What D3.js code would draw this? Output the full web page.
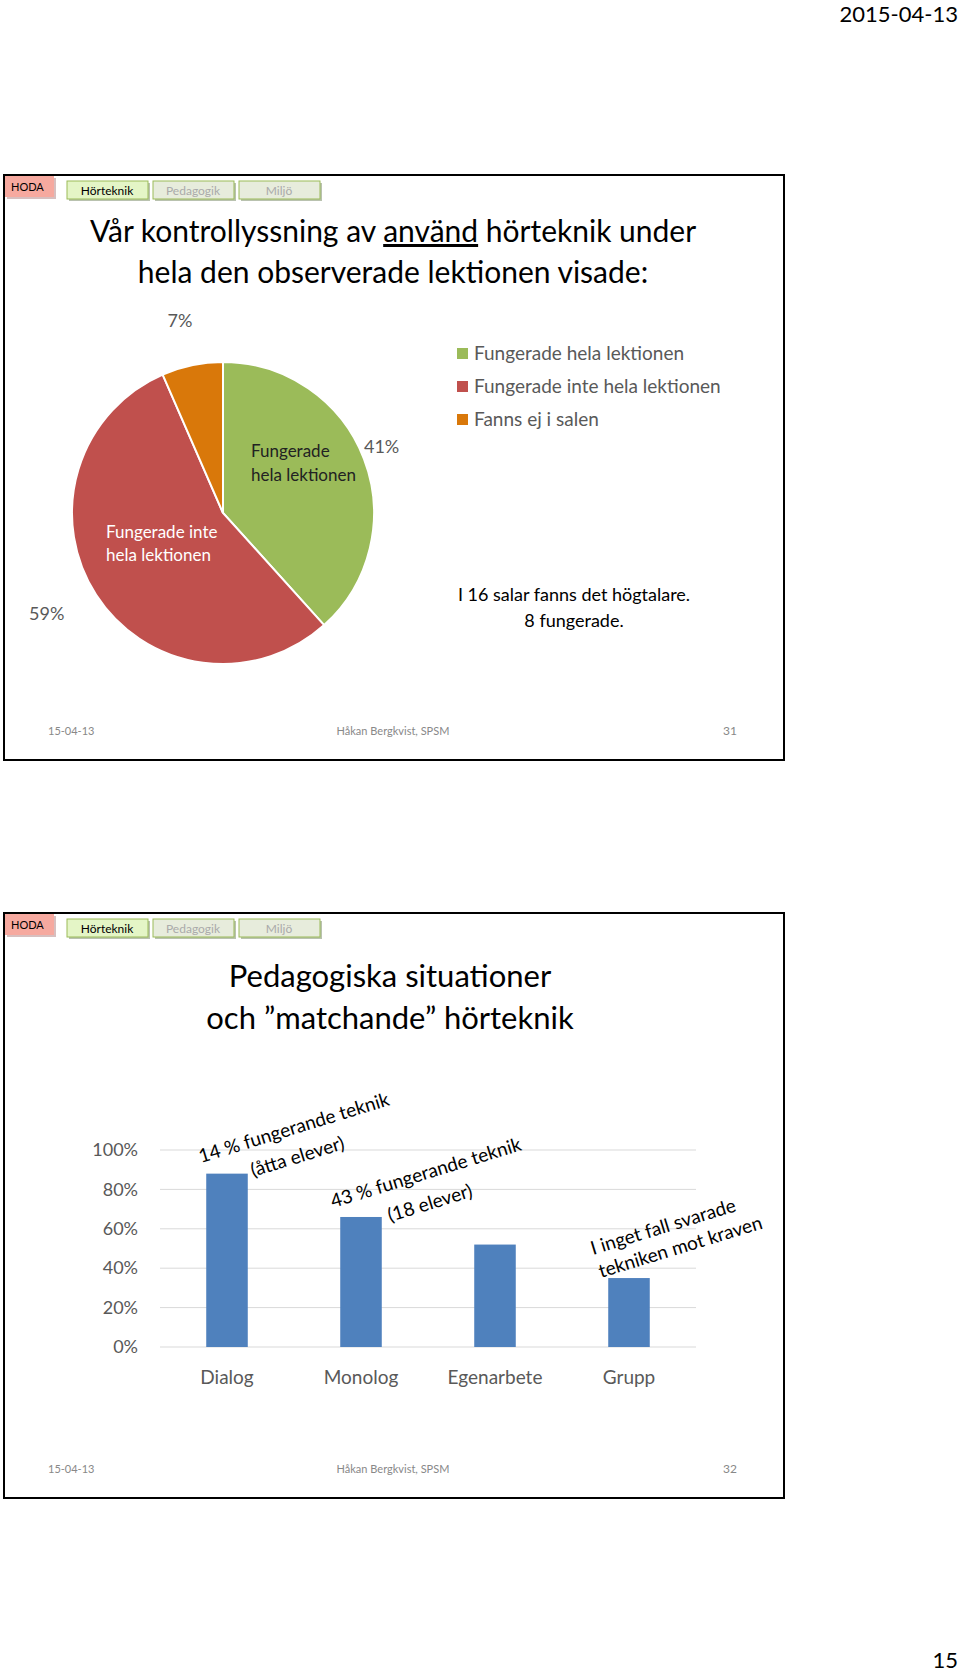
<!DOCTYPE html>
<html>
<head>
<meta charset="utf-8">
<script src="https://cdn.jsdelivr.net/npm/d3@7/dist/d3.min.js"></script>
<style>
  body { margin: 0; background: #fff; }
  svg text { font-family: Lato, "Open Sans", sans-serif; }
</style>
</head>
<body>
<svg id="page" width="960" height="1674"></svg>
<script>
// pie data (slide 31)
var pieLabels = ['Fungerade hela lektionen', 'Fungerade inte hela lektionen', 'Fanns ej i salen'];
var pieValues = [41, 59, 7];
var pieColors = ['#9bbb59', '#c0504d', '#d9780a'];

// bar data (slide 32)
var barCats = ['Dialog', 'Monolog', 'Egenarbete', 'Grupp'];
var barValues = [0.88, 0.66, 0.52, 0.35];
var yTicks = [0, 0.2, 0.4, 0.6, 0.8, 1];

var svg = d3.select('#page');

svg.append('text').attr('x', 958).attr('y', 22).attr('text-anchor', 'end')
  .attr('font-size', 22).text('2015-04-13');
svg.append('text').attr('x', 958).attr('y', 1668).attr('text-anchor', 'end')
  .attr('font-size', 22).text('15');

function slide(top, h, num) {
  var g = svg.append('g').attr('transform', 'translate(0,' + top + ')');
  g.append('rect').attr('x', 4).attr('y', 0).attr('width', 780).attr('height', h)
    .attr('fill', '#fff').attr('stroke', '#000').attr('stroke-width', 2);
  // nav tabs
  g.append('rect').attr('x', 7).attr('y', 3).attr('width', 49).attr('height', 21).attr('fill', '#b08080').attr('opacity', 0.5);
  g.append('rect').attr('x', 5).attr('y', 1).attr('width', 49).attr('height', 21).attr('fill', '#f6a99f');
  g.append('text').attr('x', 11).attr('y', 16).attr('font-size', 11).text('HODA');
  var tabs = [['Hörteknik', 67, '#e4f5c6', '#000'], ['Pedagogik', 153, '#e7ecdc', '#aaa'], ['Miljö', 239, '#e7ecdc', '#aaa']];
  tabs.forEach(t => {
    g.append('rect').attr('x', t[1] + 2).attr('y', 8).attr('width', 81).attr('height', 18).attr('fill', '#8a9a7a').attr('opacity', 0.6);
    g.append('rect').attr('x', t[1]).attr('y', 6).attr('width', 81).attr('height', 18)
      .attr('fill', t[2]).attr('stroke', '#9bbb59').attr('stroke-width', 1);
    g.append('text').attr('x', t[1] + 40).attr('y', 20).attr('text-anchor', 'middle')
      .attr('font-size', 12).attr('fill', t[3]).text(t[0]);
  });
  // footer
  var fy = h - 25;
  g.append('text').attr('x', 48).attr('y', fy).attr('font-size', 11).attr('fill', '#888').text('15-04-13');
  g.append('text').attr('x', 393).attr('y', fy).attr('text-anchor', 'middle').attr('font-size', 11).attr('fill', '#888').text('Håkan Bergkvist, SPSM');
  g.append('text').attr('x', 737).attr('y', fy).attr('text-anchor', 'end').attr('font-size', 12).attr('fill', '#888').text(num);
  return g;
}

// ---- slide 31: pie ----
var s1 = slide(175, 585, '31');
var t1 = s1.append('text').attr('text-anchor', 'middle').attr('font-size', 30);
t1.append('tspan').attr('x', 393).attr('y', 67).text('Vår kontrollyssning av ')
  .append('tspan').attr('text-decoration', 'underline').text('använd');
t1.append('tspan').text(' hörteknik under');
s1.append('text').attr('x', 393).attr('y', 108).attr('text-anchor', 'middle').attr('font-size', 30)
  .text('hela den observerade lektionen visade:');

var r = 151;
var pg = s1.append('g').attr('transform', 'translate(223,338)');
var arcs = d3.pie().sort(null)(pieValues);
var arc = d3.arc().innerRadius(0).outerRadius(r);
pg.selectAll('path').data(arcs).join('path')
  .attr('d', arc).attr('fill', (d, i) => pieColors[i])
  .attr('stroke', '#fff').attr('stroke-width', 2);

var outer = d3.arc().innerRadius(r + 35).outerRadius(r + 35);
var total = d3.sum(pieValues);
var pctOff = [[-15, 0], [-20, 0], [-5, -10]];
pg.selectAll('text.pct').data(arcs).join('text').attr('class', 'pct')
  .attr('x', (d, i) => outer.centroid(d)[0] + pctOff[i][0])
  .attr('y', (d, i) => outer.centroid(d)[1] + pctOff[i][1])
  .attr('text-anchor', 'middle').attr('dy', '0.35em')
  .attr('font-size', 18).attr('fill', '#595959')
  .text(d => Math.round(d.value) + '%');

// inner labels
s1.append('text').attr('x', 251).attr('y', 282).attr('font-size', 17).attr('fill', '#222')
  .selectAll('tspan').data(['Fungerade', 'hela lektionen']).join('tspan')
  .attr('x', 251).attr('dy', (d, i) => i ? 24 : 0).text(d => d);
s1.append('text').attr('x', 106).attr('y', 363).attr('font-size', 17).attr('fill', '#fff')
  .selectAll('tspan').data(['Fungerade inte', 'hela lektionen']).join('tspan')
  .attr('x', 106).attr('dy', (d, i) => i ? 23 : 0).text(d => d);

// legend
var lg = s1.append('g').attr('transform', 'translate(457,172)');
pieLabels.forEach((l, i) => {
  lg.append('rect').attr('x', 0).attr('y', i * 33 + 1).attr('width', 11).attr('height', 11).attr('fill', pieColors[i]);
  lg.append('text').attr('x', 17).attr('y', i * 33 + 13).attr('font-size', 19).attr('fill', '#595959').text(l);
});

s1.append('text').attr('x', 574).attr('y', 426).attr('text-anchor', 'middle').attr('font-size', 18).text('I 16 salar fanns det högtalare.');
s1.append('text').attr('x', 574).attr('y', 452).attr('text-anchor', 'middle').attr('font-size', 18).text('8 fungerade.');

// ---- slide 32: bars ----
var s2 = slide(913, 585, '32');
s2.append('text').attr('x', 390).attr('y', 74).attr('text-anchor', 'middle').attr('font-size', 31).text('Pedagogiska situationer');
s2.append('text').attr('x', 390).attr('y', 116).attr('text-anchor', 'middle').attr('font-size', 31).text('och ”matchande” hörteknik');

var x = d3.scaleBand().domain(barCats).range([160, 696]).paddingInner(0.69).paddingOuter(0.345);
var y = d3.scaleLinear().domain([0, 1]).range([434, 237]);

s2.append('g').selectAll('line').data(yTicks).join('line')
  .attr('x1', 160).attr('x2', 696).attr('y1', d => y(d)).attr('y2', d => y(d))
  .attr('stroke', '#d9d9d9').attr('stroke-width', 1);

var yAxis = s2.append('g').attr('transform', 'translate(160,0)')
  .call(d3.axisLeft(y).tickValues(yTicks).tickFormat(d3.format('.0%')).tickSize(0).tickPadding(22));
yAxis.select('.domain').remove();
yAxis.selectAll('text').attr('font-size', 18).attr('fill', '#595959').attr('font-family', 'Lato, sans-serif');

var xAxis = s2.append('g').attr('transform', 'translate(0,434)')
  .call(d3.axisBottom(x).tickSize(0).tickPadding(24));
xAxis.select('.domain').remove();
xAxis.selectAll('text').attr('font-size', 19).attr('fill', '#595959').attr('font-family', 'Lato, sans-serif');

s2.append('g').selectAll('rect').data(barValues).join('rect')
  .attr('x', (d, i) => x(barCats[i])).attr('width', x.bandwidth())
  .attr('y', d => y(d)).attr('height', d => y(0) - y(d))
  .attr('fill', '#4f81bd');

// rotated notes
var notes = [
  [201, 250, '14 % fungerande teknik'], [253, 264, '(åtta elever)'],
  [333, 295, '43 % fungerande teknik'], [390, 309, '(18 elever)'],
  [593, 342, 'I inget fall svarade'], [601, 365, 'tekniken mot kraven']
];
s2.append('g').selectAll('text').data(notes).join('text')
  .attr('transform', d => 'translate(' + d[0] + ',' + d[1] + ') rotate(-17)')
  .attr('font-size', 19).attr('fill', '#000').text(d => d[2]);
</script>
</body>
</html>
